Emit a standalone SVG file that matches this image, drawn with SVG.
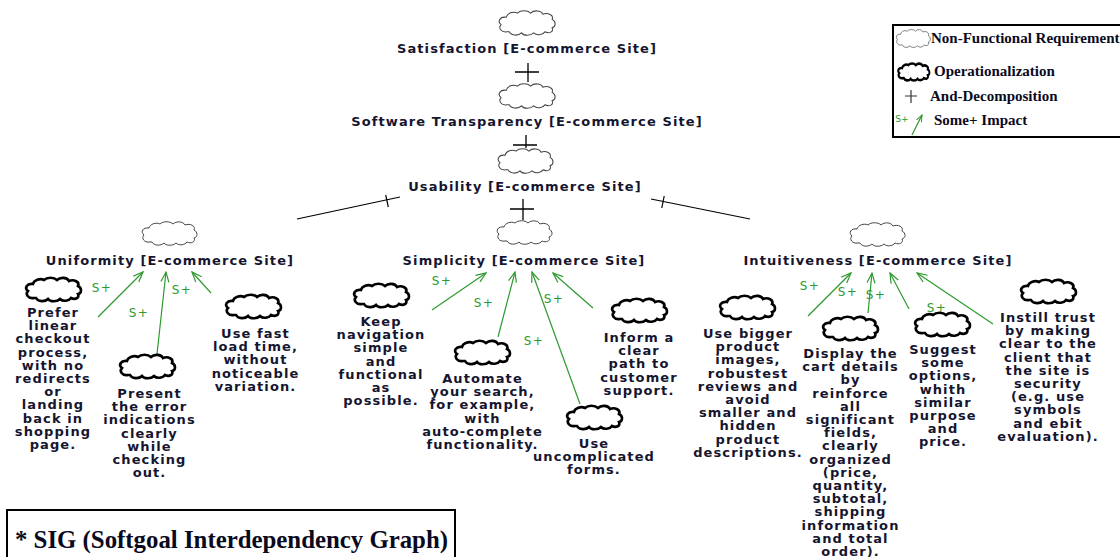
<svg xmlns="http://www.w3.org/2000/svg" width="1120" height="557" viewBox="0 0 1120 557">
<style>
.bg{fill:#ffffff}
.nfr{fill:none;stroke:#444;stroke-width:1}
.op{fill:none;stroke:#000;stroke-width:2.6}
.lbl{font-family:"DejaVu Sans","Verdana",sans-serif;font-weight:bold;font-size:13px;letter-spacing:1.1px;fill:#151530;text-anchor:middle}
.sp{font-family:"DejaVu Sans",sans-serif;font-size:12px;letter-spacing:1.5px;fill:#2e9a2e;text-anchor:middle}
.and{stroke:#000;stroke-width:1.3;fill:none}
.dec{stroke:#000;stroke-width:1.2;fill:none}
.imp{stroke:#2e9a2e;stroke-width:1.2;fill:none;marker-end:url(#ah)}
.leg{font-family:"Liberation Serif","Times New Roman",serif;font-weight:bold;font-size:15px;fill:#0a0a1e}
</style>
<defs>
<path id="cloud" d="M10,21 C4,22 1,17 4,14 C0,11 3,6 9,7 C10,3 16,1 20,3 C23,0 30,0 33,3 C36,0 43,0 45,4 C50,2 56,5 54,9 C58,11 58,16 54,17 C56,21 51,23 47,21 C45,24 39,25 36,22 C33,25 26,25 24,22 C21,25 14,25 12,21 Z"/>
<marker id="ah" viewBox="-11 -6 12 12" refX="0" refY="0" markerWidth="12" markerHeight="12" orient="auto" markerUnits="userSpaceOnUse">
<path d="M-10,-4 L0,0 L-10,4" fill="none" stroke="#2e9a2e" stroke-width="1.2"/>
</marker>
<marker id="ahs" viewBox="-11 -6 12 12" refX="0" refY="0" markerWidth="8" markerHeight="8" orient="auto" markerUnits="userSpaceOnUse">
<path d="M-10,-4 L0,0 L-10,4" fill="none" stroke="#2e9a2e" stroke-width="1.5"/>
</marker>
</defs>
<rect class="bg" x="0" y="0" width="1120" height="557"/>

<g id="connectors">
<path class="and" d="M515,72 H539 M528,63 V82"/>
<path class="and" d="M513,145 H537 M526,135 V148"/>
<path class="and" d="M510,209 H534 M523,199 V220"/>
<path class="dec" d="M297,219 L400,197 M385.7,195 L388.3,207"/>
<path class="dec" d="M651,199 L750,219 M664.2,196 L661.8,208"/>
<line class="imp" x1="98" y1="317" x2="143" y2="272"/>
<line class="imp" x1="157" y1="354" x2="166" y2="272"/>
<line class="imp" x1="211" y1="293" x2="192" y2="272"/>
<line class="imp" x1="432" y1="310" x2="486" y2="273"/>
<line class="imp" x1="498" y1="337" x2="515" y2="272"/>
<line class="imp" x1="580" y1="404" x2="532" y2="272"/>
<line class="imp" x1="593" y1="308" x2="553" y2="273"/>
<line class="imp" x1="808" y1="316" x2="851" y2="273"/>
<line class="imp" x1="868" y1="313" x2="872" y2="273"/>
<line class="imp" x1="909" y1="309" x2="890" y2="273"/>
<line class="imp" x1="993" y1="324" x2="917" y2="273"/>
<text class="sp" x="102" y="292">S+</text>
<text class="sp" x="139" y="317">S+</text>
<text class="sp" x="182" y="294">S+</text>
<text class="sp" x="442" y="285">S+</text>
<text class="sp" x="484" y="307">S+</text>
<text class="sp" x="534" y="345">S+</text>
<text class="sp" x="554" y="303">S+</text>
<text class="sp" x="810" y="290">S+</text>
<text class="sp" x="848" y="296">S+</text>
<text class="sp" x="876" y="299">S+</text>
<text class="sp" x="937" y="312">S+</text>
</g>

<g id="n-satisfaction">
<use href="#cloud" class="nfr" transform="translate(497,10) scale(1.02,1.04)"/>
<text class="lbl" x="527" y="53">Satisfaction [E-commerce Site]</text>
</g>
<g id="n-transparency">
<use href="#cloud" class="nfr" transform="translate(497,83) scale(1.02,1.04)"/>
<text class="lbl" x="527" y="126">Software Transparency [E-commerce Site]</text>
</g>
<g id="n-usability">
<use href="#cloud" class="nfr" transform="translate(496,148) scale(1.0,1.04)"/>
<text class="lbl" x="525" y="191">Usability [E-commerce Site]</text>
</g>
<g id="n-uniformity">
<use href="#cloud" class="nfr" transform="translate(140,221)"/>
<text class="lbl" x="170" y="265">Uniformity [E-commerce Site]</text>
</g>
<g id="n-simplicity">
<use href="#cloud" class="nfr" transform="translate(495,220)"/>
<text class="lbl" x="524" y="265">Simplicity [E-commerce Site]</text>
</g>
<g id="n-intuitiveness">
<use href="#cloud" class="nfr" transform="translate(848,222)"/>
<text class="lbl" x="878" y="265">Intuitiveness [E-commerce Site]</text>
</g>

<g id="op-linear">
<use href="#cloud" class="op" transform="translate(24,277)"/>
<text class="lbl"><tspan x="53" y="317">Prefer</tspan><tspan x="53" dy="13.2">linear</tspan><tspan x="53" dy="13.2">checkout</tspan><tspan x="53" dy="13.2">process,</tspan><tspan x="53" dy="13.2">with no</tspan><tspan x="53" dy="13.2">redirects</tspan><tspan x="53" dy="13.2">or</tspan><tspan x="53" dy="13.2">landing</tspan><tspan x="53" dy="13.2">back in</tspan><tspan x="53" dy="13.2">shopping</tspan><tspan x="53" dy="13.2">page.</tspan></text>
</g>
<g id="op-error">
<use href="#cloud" class="op" transform="translate(118,354)"/>
<text class="lbl"><tspan x="149.5" y="398">Present</tspan><tspan x="149.5" dy="13.2">the error</tspan><tspan x="149.5" dy="13.2">indications</tspan><tspan x="149.5" dy="13.2">clearly</tspan><tspan x="149.5" dy="13.2">while</tspan><tspan x="149.5" dy="13.2">checking</tspan><tspan x="149.5" dy="13.2">out.</tspan></text>
</g>
<g id="op-fast">
<use href="#cloud" class="op" transform="translate(224,294)"/>
<text class="lbl"><tspan x="255.5" y="338">Use fast</tspan><tspan x="255.5" dy="13.2">load time,</tspan><tspan x="255.5" dy="13.2">without</tspan><tspan x="255.5" dy="13.2">noticeable</tspan><tspan x="255.5" dy="13.2">variation.</tspan></text>
</g>
<g id="op-navigation">
<use href="#cloud" class="op" transform="translate(352,283)"/>
<text class="lbl"><tspan x="381" y="326">Keep</tspan><tspan x="381" dy="13.2">navigation</tspan><tspan x="381" dy="13.2">simple</tspan><tspan x="381" dy="13.2">and</tspan><tspan x="381" dy="13.2">functional</tspan><tspan x="381" dy="13.2">as</tspan><tspan x="381" dy="13.2">possible.</tspan></text>
</g>
<g id="op-search">
<use href="#cloud" class="op" transform="translate(453,340)"/>
<text class="lbl"><tspan x="482.5" y="383">Automate</tspan><tspan x="482.5" dy="13.2">your search,</tspan><tspan x="482.5" dy="13.2">for example,</tspan><tspan x="482.5" dy="13.2">with</tspan><tspan x="482.5" dy="13.2">auto-complete</tspan><tspan x="482.5" dy="13.2">functionality.</tspan></text>
</g>
<g id="op-forms">
<use href="#cloud" class="op" transform="translate(565,405)"/>
<text class="lbl"><tspan x="594" y="448">Use</tspan><tspan x="594" dy="13.2">uncomplicated</tspan><tspan x="594" dy="13.2">forms.</tspan></text>
</g>
<g id="op-support">
<use href="#cloud" class="op" transform="translate(610,298)"/>
<text class="lbl"><tspan x="639" y="342">Inform a</tspan><tspan x="639" dy="13.2">clear</tspan><tspan x="639" dy="13.2">path to</tspan><tspan x="639" dy="13.2">customer</tspan><tspan x="639" dy="13.2">support.</tspan></text>
</g>
<g id="op-images">
<use href="#cloud" class="op" transform="translate(718,295)"/>
<text class="lbl"><tspan x="748" y="338">Use bigger</tspan><tspan x="748" dy="13.2">product</tspan><tspan x="748" dy="13.2">images,</tspan><tspan x="748" dy="13.2">robustest</tspan><tspan x="748" dy="13.2">reviews and</tspan><tspan x="748" dy="13.2">avoid</tspan><tspan x="748" dy="13.2">smaller and</tspan><tspan x="748" dy="13.2">hidden</tspan><tspan x="748" dy="13.2">product</tspan><tspan x="748" dy="13.2">descriptions.</tspan></text>
</g>
<g id="op-cart">
<use href="#cloud" class="op" transform="translate(821,316)"/>
<text class="lbl"><tspan x="850.5" y="358">Display the</tspan><tspan x="850.5" dy="13.2">cart details</tspan><tspan x="850.5" dy="13.2">by</tspan><tspan x="850.5" dy="13.2">reinforce</tspan><tspan x="850.5" dy="13.2">all</tspan><tspan x="850.5" dy="13.2">significant</tspan><tspan x="850.5" dy="13.2">fields,</tspan><tspan x="850.5" dy="13.2">clearly</tspan><tspan x="850.5" dy="13.2">organized</tspan><tspan x="850.5" dy="13.2">(price,</tspan><tspan x="850.5" dy="13.2">quantity,</tspan><tspan x="850.5" dy="13.2">subtotal,</tspan><tspan x="850.5" dy="13.2">shipping</tspan><tspan x="850.5" dy="13.2">information</tspan><tspan x="850.5" dy="13.2">and total</tspan><tspan x="850.5" dy="13.2">order).</tspan></text>
</g>
<g id="op-suggest">
<use href="#cloud" class="op" transform="translate(913,312)"/>
<text class="lbl"><tspan x="943" y="354">Suggest</tspan><tspan x="943" dy="13.2">some</tspan><tspan x="943" dy="13.2">options,</tspan><tspan x="943" dy="13.2">whith</tspan><tspan x="943" dy="13.2">similar</tspan><tspan x="943" dy="13.2">purpose</tspan><tspan x="943" dy="13.2">and</tspan><tspan x="943" dy="13.2">price.</tspan></text>
</g>
<g id="op-trust">
<use href="#cloud" class="op" transform="translate(1019,279)"/>
<text class="lbl"><tspan x="1048" y="322">Instill trust</tspan><tspan x="1048" dy="13.2">by making</tspan><tspan x="1048" dy="13.2">clear to the</tspan><tspan x="1048" dy="13.2">client that</tspan><tspan x="1048" dy="13.2">the site is</tspan><tspan x="1048" dy="13.2">security</tspan><tspan x="1048" dy="13.2">(e.g. use</tspan><tspan x="1048" dy="13.2">symbols</tspan><tspan x="1048" dy="13.2">and ebit</tspan><tspan x="1048" dy="13.2">evaluation).</tspan></text>
</g>

<g id="legend">
<rect x="893" y="25" width="240" height="112" fill="none" stroke="#000" stroke-width="2"/>
<use href="#cloud" class="nfr" transform="translate(895,29) scale(0.62,0.76)"/>
<text class="leg" x="931" y="43">Non-Functional Requirement</text>
<use href="#cloud" fill="none" stroke="#000" stroke-width="3.5" transform="translate(897,63) scale(0.57,0.72)"/>
<text class="leg" x="934" y="76">Operationalization</text>
<path d="M905,96 H917 M911,90 V103" stroke="#333" stroke-width="1.2" fill="none"/>
<text class="leg" x="930" y="101">And-Decomposition</text>
<text x="902" y="122" font-family="DejaVu Sans,sans-serif" font-size="9" fill="#2e9a2e" text-anchor="middle">S+</text>
<line x1="912" y1="135" x2="922" y2="115" stroke="#2e9a2e" stroke-width="1.2" marker-end="url(#ahs)"/>
<text class="leg" x="934" y="125">Some+ Impact</text>
</g>

<g id="caption">
<rect x="7" y="510" width="448" height="60" fill="none" stroke="#000" stroke-width="2"/>
<text x="15" y="548" font-family="Liberation Serif,Times New Roman,serif" font-weight="bold" font-size="25" fill="#0a0a1e" textLength="433" lengthAdjust="spacingAndGlyphs">* SIG (Softgoal Interdependency Graph)</text>
</g>
</svg>
